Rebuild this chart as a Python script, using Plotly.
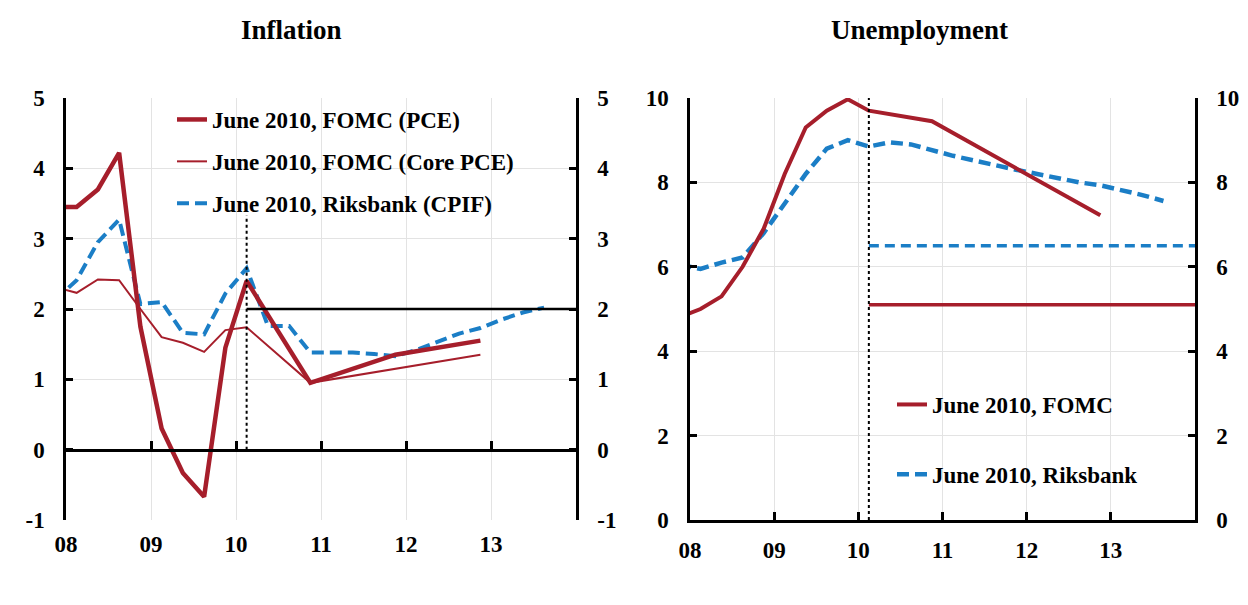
import plotly.graph_objects as go

# ---------------- data ----------------
years = [2008, 2009, 2010, 2011, 2012, 2013]
year_labels = ["08", "09", "10", "11", "12", "13"]
inf_ticks = [-1, 0, 1, 2, 3, 4, 5]
inf_labels = ["-1", "0", "1", "2", "3", "4", "5"]
unemp_ticks = [0, 2, 4, 6, 8, 10]
unemp_labels = ["0", "2", "4", "6", "8", "10"]

# quarterly history (quarter mid-points) then forecasts
q_hist = [2007.875, 2008.125, 2008.375, 2008.625, 2008.875, 2009.125,
          2009.375, 2009.625, 2009.875, 2010.125]
fomc_fc_x = [2010.875, 2011.875, 2012.875]
riks_fc_x = [2010.375, 2010.625, 2010.875, 2011.125, 2011.375, 2011.625,
             2011.875, 2012.125, 2012.375, 2012.625, 2012.875, 2013.125,
             2013.375, 2013.625]

# Inflation
pce = [3.45, 3.45, 3.70, 4.22, 1.75, 0.30, -0.33, -0.67, 1.45, 2.40] + [0.95, 1.35, 1.55]
core_pce = [2.31, 2.23, 2.42, 2.41, 2.00, 1.60, 1.52, 1.39, 1.70, 1.74] + [0.95, 1.15, 1.35]
cpif = [2.13, 2.41, 2.95, 3.27, 2.07, 2.10, 1.66, 1.64, 2.22, 2.58] + \
       [1.76, 1.76, 1.38, 1.38, 1.38, 1.36, 1.33, 1.42, 1.53, 1.65, 1.73, 1.85, 1.95, 2.02]
target_x = [2010.125, 2014.0]
target_y = [2.0, 2.0]

# Unemployment
fomc_u = [4.80, 5.00, 5.30, 6.00, 6.90, 8.20, 9.30, 9.70, 9.97, 9.70] + [9.45, 8.33, 7.22]
riks_u = [6.05, 5.95, 6.10, 6.22, 6.80, 7.50, 8.20, 8.80, 9.00, 8.85] + \
         [8.95, 8.90, 8.76, 8.63, 8.52, 8.40, 8.30, 8.20, 8.10, 8.00, 7.93, 7.82, 7.70, 7.56]
lr_x = [2010.125, 2014.0]
fomc_lr = [5.1, 5.1]
riks_lr = [6.5, 6.5]

vline_x = [2010.125, 2010.125]
vline_inf = [0.0, 3.33]
vline_unemp = [0.0, 10.0]

# ---------------- style ----------------
RED = "#A61E2B"
BLUE = "#1B7EC6"
GRID = "#E3E3E3"
FONT = "Liberation Serif"
W, H = 1248, 605
OFF = 8  # page body margin

def px(x):
    return (x - OFF) / W

def py(y):
    return 1 - (y - OFF) / H

yd = [py(520), py(98)]
xl = [px(66), px(576)]
xr = [px(690), px(1195)]

fig = go.Figure()

# ---- left panel ----
fig.add_trace(go.Scatter(x=q_hist + riks_fc_x, y=cpif, mode="lines",
                         line=dict(color=BLUE, width=4, dash="12px,6px"),
                         name="June 2010, Riksbank (CPIF)", legend="legend",
                         legendgroup="c", legendrank=3, xaxis="x", yaxis="y"))
fig.add_trace(go.Scatter(x=q_hist + fomc_fc_x, y=core_pce, mode="lines",
                         line=dict(color=RED, width=2),
                         name="June 2010, FOMC (Core PCE)", legend="legend",
                         legendgroup="b", legendrank=2, xaxis="x", yaxis="y"))
fig.add_trace(go.Scatter(x=q_hist + fomc_fc_x, y=pce, mode="lines",
                         line=dict(color=RED, width=4.5),
                         name="June 2010, FOMC (PCE)", legend="legend",
                         legendgroup="a", legendrank=1, xaxis="x", yaxis="y"))
fig.add_trace(go.Scatter(x=target_x, y=target_y, mode="lines",
                         line=dict(color="black", width=2.5),
                         showlegend=False, xaxis="x3", yaxis="y"))
fig.add_trace(go.Scatter(x=vline_x, y=vline_inf, mode="lines",
                         line=dict(color="black", width=2, dash="dot"),
                         showlegend=False, xaxis="x", yaxis="y2"))

# ---- right panel ----
fig.add_trace(go.Scatter(x=lr_x, y=riks_lr, mode="lines",
                         line=dict(color=BLUE, width=3.5, dash="10px,6px"),
                         showlegend=False, xaxis="x2", yaxis="y3"))
fig.add_trace(go.Scatter(x=lr_x, y=fomc_lr, mode="lines",
                         line=dict(color=RED, width=3.5),
                         showlegend=False, xaxis="x2", yaxis="y3"))
fig.add_trace(go.Scatter(x=q_hist + riks_fc_x, y=riks_u, mode="lines",
                         line=dict(color=BLUE, width=4.5, dash="12px,6px"),
                         name="June 2010, Riksbank", legend="legend2",
                         legendgroup="e", legendrank=2, xaxis="x2", yaxis="y3"))
fig.add_trace(go.Scatter(x=q_hist + fomc_fc_x, y=fomc_u, mode="lines",
                         line=dict(color=RED, width=4),
                         name="June 2010, FOMC", legend="legend2",
                         legendgroup="d", legendrank=1, xaxis="x2", yaxis="y3"))
fig.add_trace(go.Scatter(x=vline_x, y=vline_unemp, mode="lines",
                         line=dict(color="black", width=2, dash="dot"),
                         showlegend=False, xaxis="x2", yaxis="y4"))

tickfont = dict(family=FONT, size=23, color="black", weight="bold")

def xaxis_base(domain, anchor):
    return dict(domain=domain, anchor=anchor, range=[2008, 2014],
                tickmode="array", tickvals=years, ticktext=year_labels,
                showgrid=True, gridcolor=GRID, gridwidth=1, zeroline=False,
                tickfont=tickfont, ticklabelstandoff=8, fixedrange=True,
                automargin=False)

def yaxis_base(domain, anchor, rng, tv, tt, side="left", overlay=None):
    d = dict(domain=domain, anchor=anchor, range=rng,
             tickmode="array", tickvals=tv, ticktext=tt,
             side=side, showline=True, linecolor="black", linewidth=2.5,
             ticks="inside", ticklen=7, tickwidth=2.5, tickcolor="black",
             showgrid=overlay is None, gridcolor=GRID, gridwidth=1,
             zeroline=False, tickfont=tickfont, ticklabelstandoff=14,
             fixedrange=True, automargin=False)
    if overlay:
        d["overlaying"] = overlay
    return d

xa = xaxis_base(xl, "y")
xa.update(ticks="", showline=False)
xa3 = dict(overlaying="x", anchor="free", domain=xl, range=[2008, 2014],
           position=yd[0] + (yd[1] - yd[0]) * (1 / 6), tickmode="array",
           tickvals=years[1:], ticks="inside", ticklen=8, tickwidth=2.5,
           tickcolor="black", showticklabels=False, showline=True,
           linecolor="black", linewidth=2.5, showgrid=False, zeroline=False,
           fixedrange=True, automargin=False)
xa2 = xaxis_base(xr, "y3")
xa2.update(showline=True, linecolor="black", linewidth=2.5, ticks="inside",
           ticklen=8, tickwidth=2.5, tickcolor="black")

legfont = dict(family=FONT, size=23, color="black", weight="bold")

fig.update_layout(
    template="none",
    width=W, height=H,
    margin=dict(l=0, r=0, t=0, b=0, pad=0, autoexpand=False),
    paper_bgcolor="white", plot_bgcolor="white",
    font=dict(family=FONT, size=22, color="black", weight="bold"),
    xaxis=xa, xaxis3=xa3, xaxis2=xa2,
    yaxis=yaxis_base(yd, "x", [-1, 5], inf_ticks, inf_labels),
    yaxis2=yaxis_base(yd, "x", [-1, 5], inf_ticks, inf_labels, side="right", overlay="y"),
    yaxis3=yaxis_base(yd, "x2", [0, 10], unemp_ticks, unemp_labels),
    yaxis4=yaxis_base(yd, "x2", [0, 10], unemp_ticks, unemp_labels, side="right", overlay="y3"),
    legend=dict(x=px(172), y=py(98), xanchor="left", yanchor="top",
                bgcolor="rgba(0,0,0,0)", itemwidth=30, tracegroupgap=9,
                traceorder="grouped", font=legfont),
    legend2=dict(x=px(892), y=py(383), xanchor="left", yanchor="top",
                 bgcolor="rgba(0,0,0,0)", itemwidth=30, tracegroupgap=37,
                 traceorder="grouped", font=legfont),
    annotations=[
        dict(text="Inflation", x=px(291), y=py(30), xref="paper", yref="paper",
             showarrow=False, xanchor="center", yanchor="middle",
             font=dict(family=FONT, size=27, color="black", weight="bold")),
        dict(text="Unemployment", x=px(919), y=py(30), xref="paper", yref="paper",
             showarrow=False, xanchor="center", yanchor="middle",
             font=dict(family=FONT, size=27, color="black", weight="bold")),
    ],
    showlegend=True,
)

fig.write_html("out.html")
